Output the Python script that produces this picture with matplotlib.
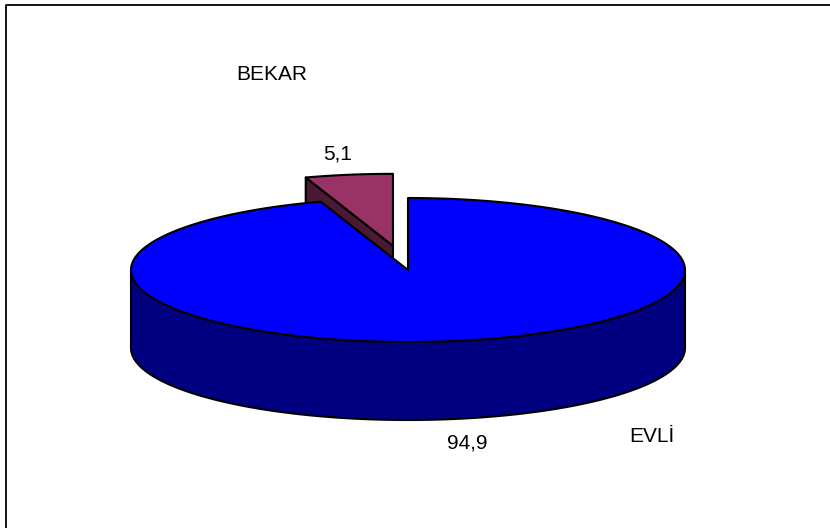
import numpy as np
import matplotlib.pyplot as plt
from matplotlib.patches import Polygon

# marital status shares (%)
labels = ["EVLİ", "BEKAR"]
values = [94.9, 5.1]
top_colors = ["#0000FF", "#993366"]
side_colors = ["#000080", "#4C1933"]
explode = [0.0, 0.34]

# pie geometry in pixel units (y grows downward)
cx, cy = 408, 270
rx, ry = 277, 72
depth = 78

# label positions (name, value) for each slice
name_pos = [(652, 436), (272, 74)]
value_pos = [(467, 443), (338, 154)]


def ell(theta, dx=0, dy=0, drop=0):
    t = np.radians(theta)
    return np.column_stack([cx + dx + rx * np.cos(t),
                            cy + dy - ry * np.sin(t) + drop])


fig = plt.figure(figsize=(8.3, 5.28), dpi=100)
ax = fig.add_axes([0, 0, 1, 1])
ax.set_xlim(0, 830)
ax.set_ylim(528, 0)
ax.axis("off")

# slices run clockwise from 12 o'clock
total = sum(values)
spans = []
start = 90.0
for v in values:
    sweep = 360.0 * v / total
    spans.append((start - sweep, start))
    start -= sweep

edge = dict(edgecolor="black", linewidth=1.5, joinstyle="round")

# exploded slices go underneath the main body
order = sorted(range(len(values)), key=lambda i: -explode[i])
for i in order:
    a0, a1 = spans[i]
    mid = np.radians((a0 + a1) / 2)
    dx = explode[i] * rx * np.cos(mid)
    dy = -explode[i] * ry * np.sin(mid)
    apex = np.array([[cx + dx, cy + dy]])

    if explode[i] > 0:
        # radial cut face on the left edge of the slice
        p = ell(a1, dx, dy)
        cut = np.vstack([apex, p, p + [0, depth], apex + [0, depth]])
        ax.add_patch(Polygon(cut, closed=True, facecolor=side_colors[i], **edge))
    else:
        # outer wall, front half only
        arc = np.linspace(180, 360, 200)
        wall = np.vstack([ell(arc, dx, dy), ell(arc[::-1], dx, dy, depth)])
        ax.add_patch(Polygon(wall, closed=True, facecolor=side_colors[i], **edge))

    arc = np.linspace(a0, a1, 300)
    top = np.vstack([apex, ell(arc, dx, dy)])
    ax.add_patch(Polygon(top, closed=True, facecolor=top_colors[i], **edge))

for i in range(len(values)):
    ax.text(*name_pos[i], labels[i], ha="center", va="center",
            fontsize=15, family="Liberation Sans")
    ax.text(*value_pos[i], f"{values[i]:.1f}".replace(".", ","),
            ha="center", va="center", fontsize=15, family="Liberation Sans")

# chart area border (left and top visible)
ax.plot([6, 6, 840], [540, 5, 5], color="black", linewidth=1.3)

fig.savefig("out.png", dpi=100)
